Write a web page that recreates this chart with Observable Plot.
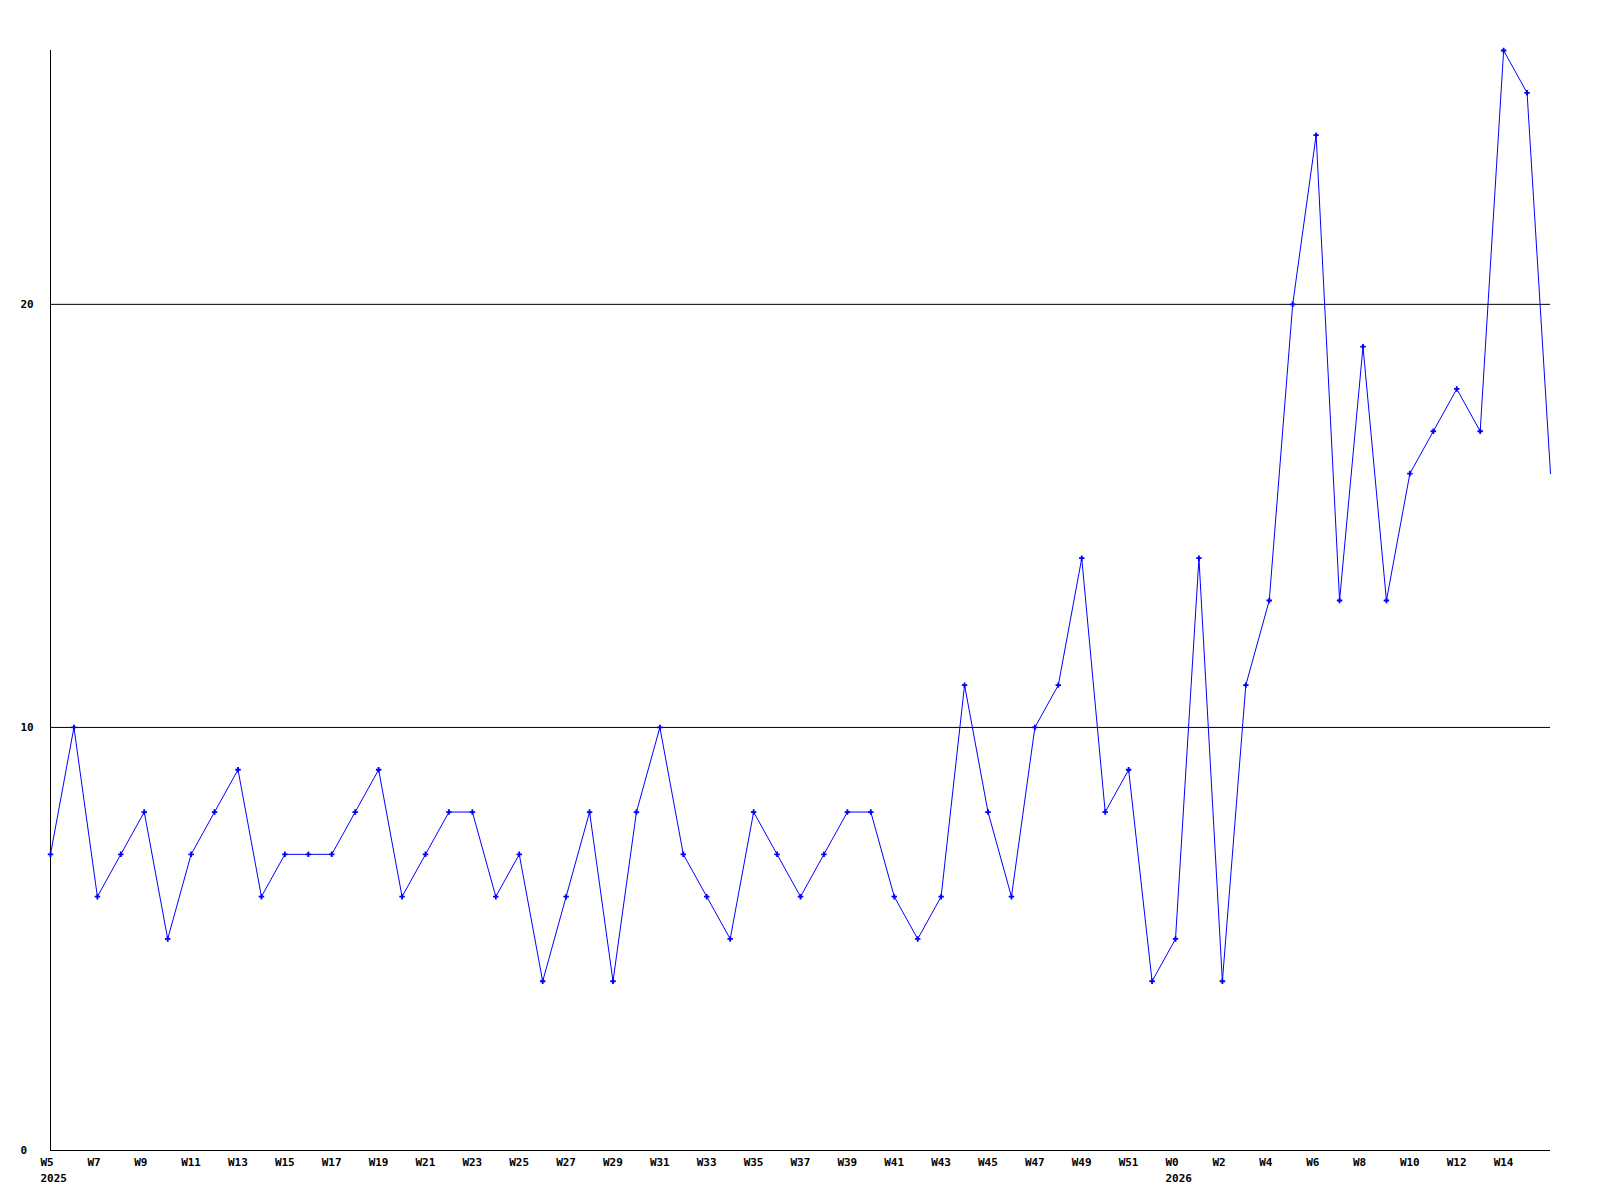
<!DOCTYPE html>
<html>
<head>
<meta charset="utf-8">
<script src="https://cdn.jsdelivr.net/npm/d3@7"></script>
<script src="https://cdn.jsdelivr.net/npm/@observablehq/plot@0.6"></script>
<style>
  html, body { margin: 0; padding: 0; background: #ffffff; }
  #chart { width: 1600px; height: 1200px; }
</style>
</head>
<body>
<div id="chart"></div>
<script>
// Weeks shown on the x axis
const weeks2025 = ["W5","W6","W7","W8","W9","W10","W11","W12","W13","W14","W15","W16","W17","W18","W19","W20","W21","W22","W23","W24","W25","W26","W27","W28","W29","W30","W31","W32","W33","W34","W35","W36","W37","W38","W39","W40","W41","W42","W43","W44","W45","W46","W47","W48","W49","W50","W51","W52"];
const weeks2026 = ["W0","W1","W2","W3","W4","W5","W6","W7","W8","W9","W10","W11","W12","W13","W14","W15","W16"];
// Weekly values
const values2025 = [7,10,6,7,8,5,7,8,9,6, 7,7,7,8,9,6,7,8,8,6, 7,4,6,8,4,8,10,7,6,5, 8,7,6,7,8,8,6,5,6,11, 8,6,10,11,14,8,9,4];
const values2026 = [5,14,4,11,13,20,24,13,19,13,16,17,18,17,26,25,16];
// Y tick labels / grid
const yTicks = [0, 10, 20];
const yGrid = [10, 20];
const years = ["2025", "2026"];

const data = [
  ...weeks2025.map((w, i) => ({key: "2025-" + w, week: w, year: "2025", value: values2025[i]})),
  ...weeks2026.map((w, i) => ({key: "2026-" + w, week: w, year: "2026", value: values2026[i]}))
];
const keys = data.map(d => d.key);
const weekOf = new Map(data.map(d => [d.key, d.week]));
const tickKeys = keys.filter((k, i) => i % 2 === 0 && i < keys.length - 1);
const yearStarts = years.map(y => ({key: data.find(d => d.year === y).key, year: y}));

const font = "'DejaVu Sans Mono', monospace";

const chart = Plot.plot({
  width: 1600,
  height: 1200,
  marginLeft: 50,
  marginRight: 50,
  marginTop: 50,
  marginBottom: 50,
  style: {fontFamily: font, fontSize: "11px", fontWeight: "bold", background: "#ffffff", color: "#000000"},
  x: {type: "point", domain: keys, padding: 0, round: false},
  y: {domain: [0, 26], axis: null},
  marks: [
    Plot.ruleY(yGrid, {stroke: "#000000", strokeWidth: 1}),
    Plot.ruleY([0], {stroke: "#000000", strokeWidth: 1}),
    Plot.ruleX([keys[0]], {stroke: "#000000", strokeWidth: 1}),
    Plot.line(data, {x: "key", y: "value", stroke: "#0000ff", strokeWidth: 1}),
    Plot.dot(data.slice(0, -1), {x: "key", y: "value", symbol: "cross", r: 2.3, fill: "#0000ff", stroke: "none"}),
    Plot.axisX({
      ticks: tickKeys,
      tickFormat: k => weekOf.get(k),
      tickSize: 0,
      tickPadding: 8,
      textAnchor: "start",
      dx: -10,
      label: null,
      fontWeight: "bold",
      fill: "#000000"
    }),
    Plot.text(yearStarts, {
      x: "key",
      text: "year",
      frameAnchor: "bottom",
      lineAnchor: "top",
      textAnchor: "start",
      dx: -10,
      dy: 24,
      fontWeight: "bold",
      fill: "#000000"
    }),
    Plot.text(yTicks, {
      y: d => d,
      text: d => String(d),
      frameAnchor: "left",
      textAnchor: "start",
      dx: -30,
      fontWeight: "bold",
      fill: "#000000"
    })
  ]
});
document.getElementById("chart").appendChild(chart);
</script>
</body>
</html>
